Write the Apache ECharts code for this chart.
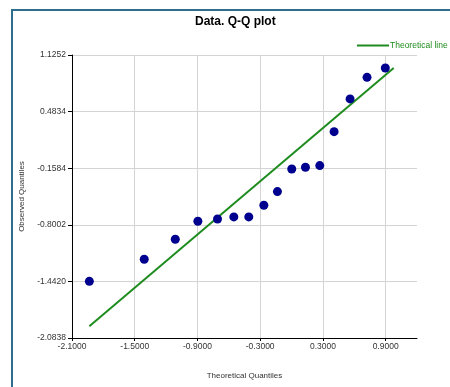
<!DOCTYPE html>
<html>
<head>
<meta charset="utf-8">
<script src="https://cdn.jsdelivr.net/npm/echarts@6/dist/echarts.min.js"></script>
<style>
  html, body { margin: 0; padding: 0; background: #fff; }
  #chart { width: 450px; height: 387px; }
</style>
</head>
<body>
<div id="chart"></div>
<script>
// Theoretical (normal) quantiles and the matching observed sample quantiles
const theoreticalQ = [-1.934, -1.409, -1.112, -0.896, -0.708, -0.552, -0.409, -0.265,
                      -0.135, 0.002, 0.133, 0.270, 0.407, 0.560, 0.722, 0.897];
const observedQ    = [-1.441, -1.191, -0.964, -0.760, -0.734, -0.711, -0.711, -0.579,
                      -0.424, -0.167, -0.148, -0.129, 0.256, 0.627, 0.872, 0.978];

// Reference line end points (x, y)
const lineX = [-1.934, 0.977];
const lineY = [-1.951, 0.978];

// Axis tick settings
const xMin = -2.1, xMax = 1.2, xStep = 0.6;
const yMin = -2.0838, yMax = 1.1252, yStep = 0.6418;

const FONT = '"Liberation Sans", Arial, sans-serif';

const chart = echarts.init(document.getElementById('chart'), null, { renderer: 'canvas' });

chart.setOption({
  animation: false,
  backgroundColor: '#ffffff',
  title: {
    text: 'Data. Q-Q plot',
    left: 190,
    top: 11,
    textStyle: { fontFamily: FONT, fontSize: 12, fontWeight: 'bold', color: '#000' }
  },
  legend: {
    data: ['Theoretical line'],
    left: 352,
    top: 36,
    icon: 'rect',
    itemWidth: 32,
    itemHeight: 2,
    itemGap: 0,
    textStyle: { fontFamily: FONT, fontSize: 8.5, color: '#1e8c1e', padding: [0, 0, 0, -4] }
  },
  grid: { left: 72, right: 33, top: 55, bottom: 49 },
  xAxis: {
    type: 'value',
    min: xMin, max: xMax, interval: xStep,
    name: 'Theoretical Quantiles',
    nameLocation: 'middle',
    nameGap: 34,
    nameTextStyle: { fontFamily: FONT, fontSize: 8, color: '#333' },
    axisLine: { onZero: false, lineStyle: { color: '#000', width: 1 } },
    axisTick: { show: true, length: 3, lineStyle: { color: '#000' } },
    axisLabel: {
      fontFamily: FONT, fontSize: 8.5, color: '#333', margin: 4,
      showMaxLabel: false,
      formatter: v => (v > 1.0 ? '' : v.toFixed(4))
    },
    splitLine: { show: true, showMinLine: false, showMaxLine: false, lineStyle: { color: '#d4d4d4', width: 1 } }
  },
  yAxis: {
    type: 'value',
    min: yMin, max: yMax, interval: yStep,
    name: 'Observed Quantiles',
    nameLocation: 'middle',
    nameRotate: 90,
    nameGap: 45,
    nameTextStyle: { fontFamily: FONT, fontSize: 8, color: '#333' },
    axisLine: { show: true, onZero: false, lineStyle: { color: '#000', width: 1 } },
    axisTick: { show: true, length: 4, lineStyle: { color: '#000' } },
    axisLabel: {
      fontFamily: FONT, fontSize: 8.5, color: '#333', margin: 6,
      formatter: v => v.toFixed(4)
    },
    splitLine: { show: true, showMinLine: false, lineStyle: { color: '#d4d4d4', width: 1 } }
  },
  graphic: [
    // chart frame (top and left edge)
    { type: 'line', shape: { x1: 11, y1: 10, x2: 450, y2: 10 }, style: { stroke: '#2f6d8c', lineWidth: 2 } },
    { type: 'line', shape: { x1: 12, y1: 9, x2: 12, y2: 387 }, style: { stroke: '#2f6d8c', lineWidth: 2 } }
  ],
  series: [
    {
      name: 'Observed',
      type: 'scatter',
      symbol: 'circle',
      symbolSize: 9,
      itemStyle: { color: '#00008f', opacity: 1 },
      data: theoreticalQ.map((x, i) => [x, observedQ[i]]),
      z: 3
    },
    {
      name: 'Theoretical line',
      type: 'line',
      symbol: 'none',
      lineStyle: { color: '#1e8c1e', width: 2 },
      itemStyle: { color: '#1e8c1e' },
      data: lineX.map((x, i) => [x, lineY[i]]),
      z: 2
    }
  ]
});
</script>
</body>
</html>
